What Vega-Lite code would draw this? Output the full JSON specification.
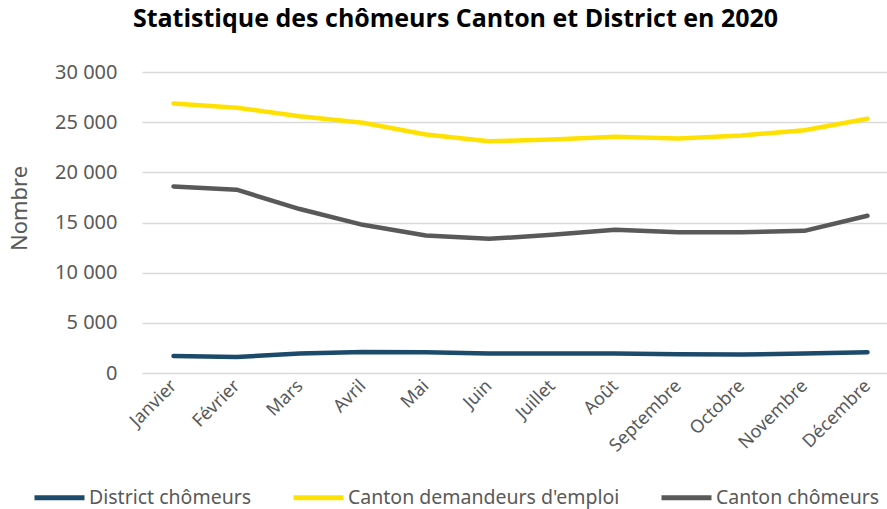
{
  "$schema": "https://vega.github.io/schema/vega-lite/v6.json",
  "autosize": {"type": "none"},
  "padding": {"left": 142, "top": 72, "right": 0, "bottom": 136},
  "width": 757,
  "height": 301,
  "config": {
    "locale": {"number": {"decimal": ",", "thousands": " ", "grouping": [3], "currency": ["", " €"]}},
    "font": "Noto Sans",
    "view": {"stroke": null}
  },
  "title": {
    "text": "Statistique des chômeurs Canton et District en 2020",
    "font": "Open Sans",
    "fontSize": 25,
    "fontWeight": "bold",
    "color": "#000000",
    "anchor": "middle",
    "dx": -65,
    "offset": 30
  },
  "data": {
    "values": [
      {"mois": "Janvier", "serie": "District chômeurs", "valeur": 1700},
      {"mois": "Février", "serie": "District chômeurs", "valeur": 1600},
      {"mois": "Mars", "serie": "District chômeurs", "valeur": 1940},
      {"mois": "Avril", "serie": "District chômeurs", "valeur": 2100},
      {"mois": "Mai", "serie": "District chômeurs", "valeur": 2080},
      {"mois": "Juin", "serie": "District chômeurs", "valeur": 1940},
      {"mois": "Juillet", "serie": "District chômeurs", "valeur": 1950},
      {"mois": "Août", "serie": "District chômeurs", "valeur": 1950},
      {"mois": "Septembre", "serie": "District chômeurs", "valeur": 1880},
      {"mois": "Octobre", "serie": "District chômeurs", "valeur": 1840},
      {"mois": "Novembre", "serie": "District chômeurs", "valeur": 1940},
      {"mois": "Décembre", "serie": "District chômeurs", "valeur": 2080},
      {"mois": "Janvier", "serie": "Canton demandeurs d'emploi", "valeur": 26870},
      {"mois": "Février", "serie": "Canton demandeurs d'emploi", "valeur": 26440},
      {"mois": "Mars", "serie": "Canton demandeurs d'emploi", "valeur": 25600},
      {"mois": "Avril", "serie": "Canton demandeurs d'emploi", "valeur": 24940},
      {"mois": "Mai", "serie": "Canton demandeurs d'emploi", "valeur": 23770},
      {"mois": "Juin", "serie": "Canton demandeurs d'emploi", "valeur": 23100},
      {"mois": "Juillet", "serie": "Canton demandeurs d'emploi", "valeur": 23270},
      {"mois": "Août", "serie": "Canton demandeurs d'emploi", "valeur": 23540},
      {"mois": "Septembre", "serie": "Canton demandeurs d'emploi", "valeur": 23370},
      {"mois": "Octobre", "serie": "Canton demandeurs d'emploi", "valeur": 23670},
      {"mois": "Novembre", "serie": "Canton demandeurs d'emploi", "valeur": 24200},
      {"mois": "Décembre", "serie": "Canton demandeurs d'emploi", "valeur": 25340},
      {"mois": "Janvier", "serie": "Canton chômeurs", "valeur": 18600},
      {"mois": "Février", "serie": "Canton chômeurs", "valeur": 18270},
      {"mois": "Mars", "serie": "Canton chômeurs", "valeur": 16340},
      {"mois": "Avril", "serie": "Canton chômeurs", "valeur": 14770},
      {"mois": "Mai", "serie": "Canton chômeurs", "valeur": 13700},
      {"mois": "Juin", "serie": "Canton chômeurs", "valeur": 13370},
      {"mois": "Juillet", "serie": "Canton chômeurs", "valeur": 13770},
      {"mois": "Août", "serie": "Canton chômeurs", "valeur": 14270},
      {"mois": "Septembre", "serie": "Canton chômeurs", "valeur": 14040},
      {"mois": "Octobre", "serie": "Canton chômeurs", "valeur": 14040},
      {"mois": "Novembre", "serie": "Canton chômeurs", "valeur": 14170},
      {"mois": "Décembre", "serie": "Canton chômeurs", "valeur": 15670}
    ]
  },
  "mark": {"type": "line", "strokeWidth": 4.5, "strokeCap": "round", "strokeJoin": "round"},
  "encoding": {
    "x": {
      "field": "mois",
      "type": "ordinal",
      "sort": ["Janvier", "Février", "Mars", "Avril", "Mai", "Juin", "Juillet", "Août", "Septembre", "Octobre", "Novembre", "Décembre"],
      "scale": {"type": "point", "padding": 0.5},
      "axis": {
        "title": null,
        "labelAngle": -45,
        "labelAlign": "right",
        "labelBaseline": "middle",
        "labelFontSize": 18,
        "labelColor": "#595959",
        "labelPadding": 10,
        "ticks": false,
        "domain": false,
        "grid": false
      }
    },
    "y": {
      "field": "valeur",
      "type": "quantitative",
      "scale": {"domain": [0, 30000], "nice": false},
      "axis": {
        "title": "Nombre",
        "titleFontSize": 22,
        "titleFontWeight": "normal",
        "titleColor": "#595959",
        "titleX": -123,
        "titleY": 136,
        "titleAlign": "center",
        "titleBaseline": "middle",
        "titleAngle": -90,
        "values": [0, 5000, 10000, 15000, 20000, 25000, 30000],
        "format": ",d",
        "labelFontSize": 20,
        "labelColor": "#595959",
        "labelPadding": 25,
        "ticks": false,
        "domain": false,
        "grid": true,
        "gridColor": "#d9d9d9",
        "gridWidth": 1.3
      }
    },
    "color": {
      "field": "serie",
      "type": "nominal",
      "scale": {
        "domain": ["District chômeurs", "Canton demandeurs d'emploi", "Canton chômeurs"],
        "range": ["#1c4a6b", "#ffe100", "#595959"]
      },
      "legend": {
        "title": null,
        "orient": "none",
        "direction": "horizontal",
        "padding": 0,
        "legendX": -110,
        "legendY": 398,
        "symbolType": "stroke",
        "symbolSize": 2500,
        "symbolStrokeWidth": 5,
        "labelFontSize": 19.5,
        "labelColor": "#595959",
        "labelOffset": 2,
        "columnPadding": 31,
        "labelLimit": 400
      }
    }
  }
}
